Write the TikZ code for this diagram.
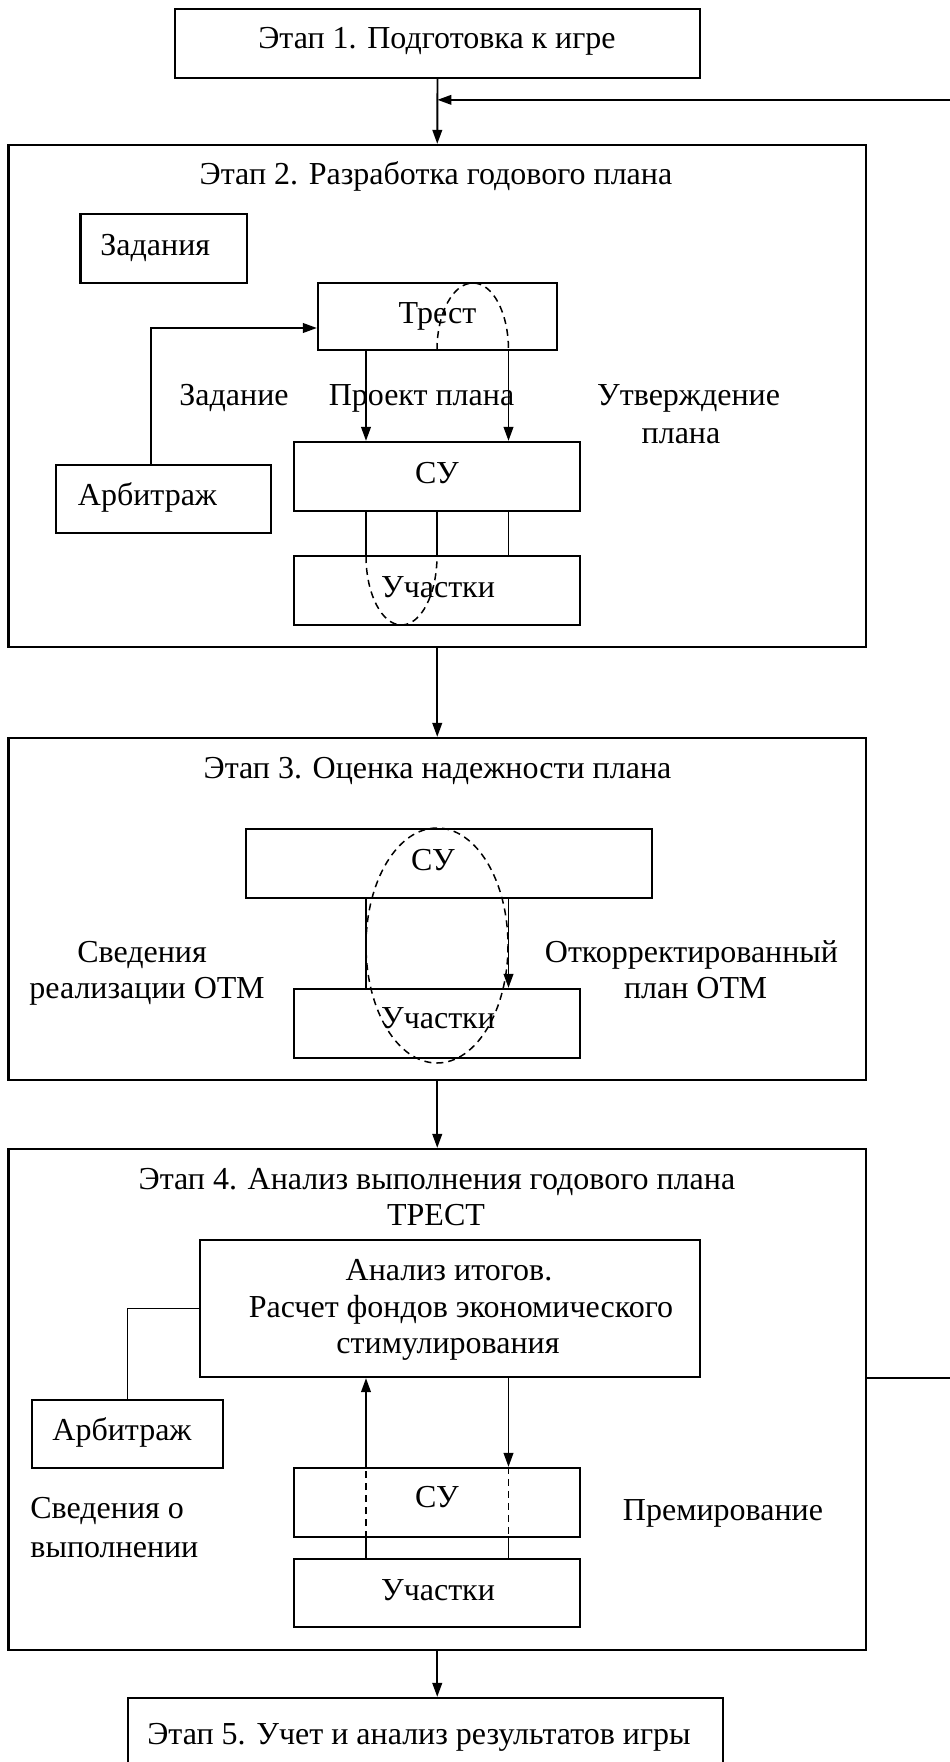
\documentclass[tikz,border=0pt]{standalone}
\usepackage{fontspec}
\setmainfont{Liberation Serif}
\usetikzlibrary{arrows.meta,fit,calc}
\begin{document}
\begin{tikzpicture}[x=0.5pt,y=-0.5pt,
  box/.style={draw,line width=1.1pt,inner sep=0pt,rectangle},
  lbl/.style={inner sep=0pt,anchor=base,font=\fontsize{16pt}{19pt}\selectfont},
  lbll/.style={lbl,anchor=base west},
  link/.style={line width=0.95pt},
  arr/.style={link,-{Triangle[length=7pt,width=4.8pt]}},
  dsh/.style={line width=0.75pt,dash pattern=on 3.5pt off 2.5pt}]
\useasboundingbox (0,0) rectangle (949,1762);

% columns of the vertical links
\coordinate (cl) at (366,0);
\coordinate (cm) at (437,0);
\coordinate (cr) at (508.5,0);
\coordinate (ca) at (151,0);

% ---------- stage boxes ----------
\node[box,fit={(175,9) (700,78)}] (stage1) {};
\node[box,fit={(8.5,145) (866,647)}] (stage2) {};
\node[box,fit={(8.5,738) (866,1080)}] (stage3) {};
\node[box,fit={(8.5,1149) (866,1650)}] (stage4) {};
\node[box,fit={(128,1698) (723,1800)}] (stage5) {};

% ---------- stage 2 ----------
\node[box,fit={(80.5,214) (247,283)}] (tasks) {};
\node[box,fit={(318,283) (557,350)}] (trest) {};
\node[box,fit={(56,465) (271,533)}] (arb2) {};
\node[box,fit={(294,442) (580,511)}] (su2) {};
\node[box,fit={(294,556) (580,625)}] (uch2) {};

% ---------- stage 3 ----------
\node[box,fit={(246,829) (652,898)}] (su3) {};
\node[box,fit={(294,989) (580,1058)}] (uch3) {};

% ---------- stage 4 ----------
\node[box,fit={(200,1240) (700,1377)}] (calc4) {};
\node[box,fit={(32,1400) (223,1468)}] (arb4) {};
\node[box,fit={(294,1468) (580,1537)}] (su4) {};
\node[box,fit={(294,1559) (580,1627)}] (uch4) {};

% ---------- texts ----------
\node[lbl] (t1) at (437,48) {Этап 1. Подготовка к игре};
\node[lbl] (t2) at (436,184) {Этап 2. Разработка годового плана};
\node[lbll] (ttasks) at (100,255) {Задания};
\node[lbl] (ttrest) at (437.5,323) {Трест};
\node[lbl] (tzad) at (234,405) {Задание};
\node[lbl] (tproj) at (421.5,405) {Проект плана};
\node[lbl] (tutv1) at (688.6,405) {Утверждение};
\node[lbl] (tutv2) at (681,443) {плана};
\node[lbl] (tsu2) at (437,483) {СУ};
\node[lbll] (tarb2) at (77.5,505) {Арбитраж};
\node[lbl] (tuch2) at (438,597) {Участки};

\node[lbl] (t3) at (437.5,778) {Этап 3. Оценка надежности плана};
\node[lbl] (tsu3) at (433,870) {СУ};
\node[lbl] (tsv1) at (142,962) {Сведения};
\node[lbl] (tsv2) at (147,998) {реализации ОТМ};
\node[lbl] (tkor1) at (691.5,962) {Откорректированный};
\node[lbl] (tkor2) at (695.6,998) {план ОТМ};
\node[lbl] (tuch3) at (438,1028) {Участки};

\node[lbl] (t4) at (437,1189) {Этап 4. Анализ выполнения годового плана};
\node[lbl] (ttr4) at (436,1225) {ТРЕСТ};
\node[lbl] (tc1) at (449,1280) {Анализ итогов.};
\node[lbl] (tc2) at (461,1317) {Расчет фондов экономического};
\node[lbl] (tc3) at (448,1353) {стимулирования};
\node[lbl] (tarb4) at (122,1440) {Арбитраж};
\node[lbl] (tsu4) at (437,1507) {СУ};
\node[lbll] (tsvo1) at (30,1518) {Сведения о};
\node[lbll] (tsvo2) at (30,1557) {выполнении};
\node[lbl] (tprem) at (723,1520) {Премирование};
\node[lbl] (tuch4) at (438,1600) {Участки};
\node[lbl] (t5) at (419,1744) {Этап 5. Учет и анализ результатов игры};

% ---------- links between stages ----------
\coordinate (join) at ($(stage1.south)!0.32!(stage2.north)$);
\draw[arr] (stage1.south) -- (stage2.north);
\draw[arr] (stage2.south) -- (stage3.north);
\draw[arr] (stage3.south) -- (stage4.north);
\draw[arr] (stage4.south) -- (stage5.north -| stage4.south);
\draw[arr] (calc4.south -| stage4.east) -- ++(110,0) |- (join);

% ---------- stage 2 links ----------
\draw[arr] (arb2.north -| ca) |- ($(trest.west)+(0,11.5)$);
\draw[arr] (trest.south -| cl) -- (su2.north -| cl);
\draw[arr] (trest.south -| cr) -- (su2.north -| cr);
\draw[link] (su2.south -| cl) -- (uch2.north -| cl);
\draw[link] (su2.south -| cm) -- (uch2.north -| cm);
\draw[link] (su2.south -| cr) -- (uch2.north -| cr);
% loops through the boxes
\draw[dsh] (437,350) .. controls (437,313) and (453.1,283) .. (473,283)
                     .. controls (492.9,283) and (508.5,313) .. (508.5,350);
\draw[dsh] (366,556) .. controls (366,594) and (381.9,625) .. (401.5,625)
                     .. controls (421.1,625) and (437,594) .. (437,556);

% ---------- stage 3 links ----------
\draw[link] (su3.south -| cl) -- (uch3.north -| cl);
\draw[arr] (su3.south -| cr) -- (uch3.north -| cr);
\draw[dsh] (437,945.5) ellipse [x radius=71, y radius=117.5];

% ---------- stage 4 links ----------
\draw[link] (calc4.west) -| (arb4.north);
\draw[arr] (su4.north -| cl) -- (calc4.south -| cl);
\draw[dsh] (su4.south -| cl) -- (su4.north -| cl);
\draw[link] (uch4.north -| cl) -- (su4.south -| cl);
\draw[arr] (calc4.south -| cr) -- (su4.north -| cr);
\draw[dsh] (su4.north -| cr) -- (su4.south -| cr);
\draw[link] (su4.south -| cr) -- (uch4.north -| cr);
\end{tikzpicture}
\end{document}
